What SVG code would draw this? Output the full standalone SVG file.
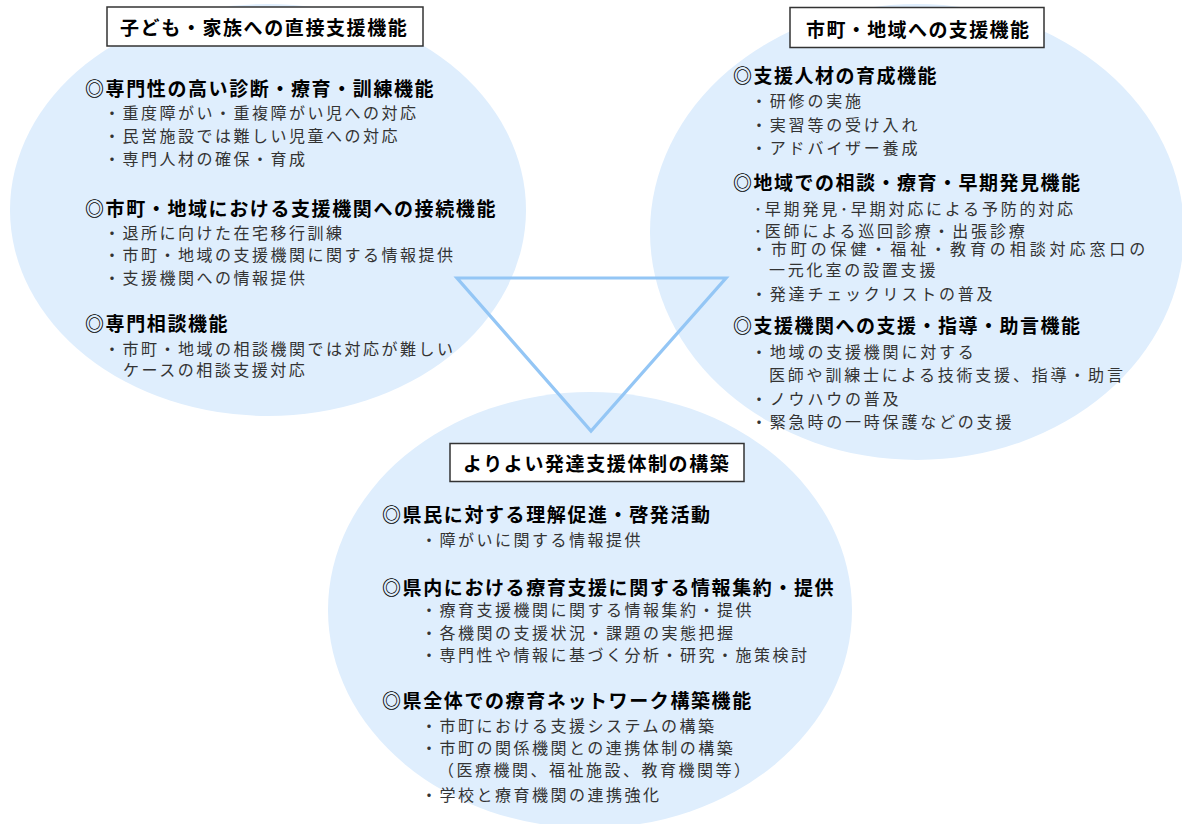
<svg xmlns="http://www.w3.org/2000/svg" width="1182" height="824" viewBox="0 0 1182 824">
<style>
.bg{fill:#ffffff}
.ell{fill:#dfeefd}
.tri{fill:none;stroke:#94c6f5;stroke-width:3.2;stroke-linejoin:miter}
.box{fill:#ffffff;stroke:#333333;stroke-width:1.5}
text{font-family:"Noto Sans CJK JP","Noto Sans CJK SC",sans-serif}
.t{font-size:19px;font-weight:bold;letter-spacing:1.6px;fill:#000}
.tr{font-size:19px;font-weight:bold;letter-spacing:1.4px;fill:#000}
.h{font-size:19px;font-weight:bold;letter-spacing:1.6px;fill:#000}
.hr{font-size:19px;font-weight:bold;letter-spacing:1.5px;fill:#000}
.b{font-size:16px;letter-spacing:2.5px;fill:#333}
.br{font-size:16px;letter-spacing:2.8px;fill:#333}
</style>
<rect class="bg" x="0" y="0" width="1182" height="824"/>
<g id="shapes">
<ellipse class="ell" cx="268" cy="210" rx="258" ry="206"/>
<ellipse class="ell" cx="917" cy="232" rx="267" ry="228"/>
<ellipse class="ell" cx="590" cy="610" rx="262" ry="218"/>
</g>
<g id="connectors">
<polygon class="tri" points="457,278 726,278 591,431"/>
</g>
<g id="node-family">
<rect class="box" x="107" y="7" width="316" height="39"/>
<text class="t" x="120" y="35">子ども・家族への直接支援機能</text>
<text class="h" x="85" y="95.5">◎専門性の高い診断・療育・訓練機能</text>
<text class="b" x="104" y="119">・重度障がい・重複障がい児への対応</text>
<text class="b" x="104" y="142">・民営施設では難しい児童への対応</text>
<text class="b" x="104" y="165">・専門人材の確保・育成</text>
<text class="h" x="85" y="215.5">◎市町・地域における支援機関への接続機能</text>
<text class="b" x="104" y="239">・退所に向けた在宅移行訓練</text>
<text class="b" x="104" y="261">・市町・地域の支援機関に関する情報提供</text>
<text class="b" x="104" y="284">・支援機関への情報提供</text>
<text class="h" x="85" y="331">◎専門相談機能</text>
<text class="b" x="104" y="355">・市町・地域の相談機関では対応が難しい</text>
<text class="b" x="123" y="376">ケースの相談支援対応</text>
</g>
<g id="node-region">
<rect class="box" x="790" y="7.5" width="254" height="40"/>
<text class="tr" x="806" y="36.5">市町・地域への支援機能</text>
<text class="hr" x="733" y="83">◎支援人材の育成機能</text>
<text class="br" x="751" y="107">・研修の実施</text>
<text class="br" x="751" y="131">・実習等の受け入れ</text>
<text class="br" x="751" y="154">・アドバイザー養成</text>
<text class="hr" x="733" y="190">◎地域での相談・療育・早期発見機能</text>
<text class="br" x="754" y="214.5">･早期発見･早期対応による予防的対応</text>
<text class="br" x="754" y="237">･医師による巡回診療・出張診療</text>
<text class="br" x="751" y="255" textLength="397" lengthAdjust="spacing">・市町の保健・福祉・教育の相談対応窓口の</text>
<text class="br" x="769" y="276">一元化室の設置支援</text>
<text class="br" x="751" y="299.5">・発達チェックリストの普及</text>
<text class="hr" x="733" y="332.5">◎支援機関への支援・指導・助言機能</text>
<text class="br" x="751" y="358">・地域の支援機関に対する</text>
<text class="br" x="769" y="381">医師や訓練士による技術支援、指導・助言</text>
<text class="br" x="751" y="405">・ノウハウの普及</text>
<text class="br" x="751" y="428">・緊急時の一時保護などの支援</text>
</g>
<g id="node-system">
<rect class="box" x="450" y="443.5" width="294" height="38"/>
<text class="t" x="463" y="471">よりよい発達支援体制の構築</text>
<text class="h" x="382" y="522">◎県民に対する理解促進・啓発活動</text>
<text class="b" x="421" y="546">・障がいに関する情報提供</text>
<text class="h" x="382" y="595">◎県内における療育支援に関する情報集約・提供</text>
<text class="b" x="421" y="615.5">・療育支援機関に関する情報集約・提供</text>
<text class="b" x="421" y="639">・各機関の支援状況・課題の実態把握</text>
<text class="b" x="421" y="660.5">・専門性や情報に基づく分析・研究・施策検討</text>
<text class="h" x="382" y="708">◎県全体での療育ネットワーク構築機能</text>
<text class="b" x="421" y="732">・市町における支援システムの構築</text>
<text class="b" x="421" y="753.5">・市町の関係機関との連携体制の構築</text>
<text class="b" x="438" y="775.5">（医療機関、福祉施設、教育機関等）</text>
<text class="b" x="421" y="801">・学校と療育機関の連携強化</text>
</g>
</svg>
